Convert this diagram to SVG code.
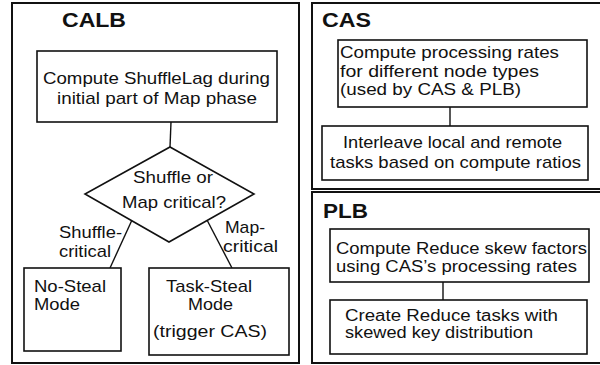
<svg xmlns="http://www.w3.org/2000/svg" width="600" height="365" viewBox="0 0 600 365">
<style>
.panel{fill:none;stroke:#111;stroke-width:2}
.box{fill:#fff;stroke:#111;stroke-width:1.6}
.ln{fill:none;stroke:#111;stroke-width:1.4}
text{font-family:"Liberation Sans",Arial,sans-serif;font-size:17px;fill:#111}
.s{font-size:16px}
.t{font-weight:bold;font-size:21px}
</style>
<rect width="600" height="365" fill="#fff"/>
<g id="panels">
<rect class="panel" x="12" y="3" width="287" height="360"/>
<rect class="panel" x="312" y="3" width="300" height="186"/>
<rect class="panel" x="312" y="192" width="300" height="171"/>
<text class="t" x="62" y="27" textLength="64" lengthAdjust="spacingAndGlyphs">CALB</text>
<text class="t" x="322" y="27" textLength="49" lengthAdjust="spacingAndGlyphs">CAS</text>
<text class="t" x="323" y="218" textLength="45" lengthAdjust="spacingAndGlyphs">PLB</text>
</g>
<g id="connectors">
<line class="ln" x1="171" y1="122" x2="170" y2="147"/>
<line class="ln" x1="132" y1="220" x2="110" y2="268"/>
<line class="ln" x1="207" y1="220" x2="232" y2="268"/>
<line class="ln" x1="450" y1="107" x2="450" y2="126"/>
<line class="ln" x1="443" y1="282" x2="443" y2="300"/>
<text x="59" y="238" textLength="63" lengthAdjust="spacingAndGlyphs">Shuffle-</text>
<text x="59" y="257" textLength="52" lengthAdjust="spacingAndGlyphs">critical</text>
<text x="225" y="233" textLength="40" lengthAdjust="spacingAndGlyphs">Map-</text>
<text x="223" y="252" textLength="55" lengthAdjust="spacingAndGlyphs">critical</text>
</g>
<g id="calb-compute">
<rect class="box" x="37" y="51" width="240" height="71"/>
<text x="43" y="84" textLength="227" lengthAdjust="spacingAndGlyphs">Compute ShuffleLag during</text>
<text x="57" y="104" textLength="200" lengthAdjust="spacingAndGlyphs">initial part of Map phase</text>
</g>
<g id="calb-decision">
<polygon class="box" points="170,147 254,194 169,242 85,194"/>
<text x="133" y="183" textLength="80" lengthAdjust="spacingAndGlyphs">Shuffle or</text>
<text x="122" y="208" textLength="104" lengthAdjust="spacingAndGlyphs">Map critical?</text>
</g>
<g id="calb-nosteal">
<rect class="box" x="24" y="268" width="97" height="83"/>
<text x="34" y="292" textLength="72" lengthAdjust="spacingAndGlyphs">No-Steal</text>
<text x="34" y="310" textLength="46" lengthAdjust="spacingAndGlyphs">Mode</text>
</g>
<g id="calb-tasksteal">
<rect class="box" x="149" y="268" width="140" height="87"/>
<text x="166" y="292" textLength="86" lengthAdjust="spacingAndGlyphs">Task-Steal</text>
<text x="188" y="310" textLength="45" lengthAdjust="spacingAndGlyphs">Mode</text>
<text x="153" y="337" textLength="114" lengthAdjust="spacingAndGlyphs">(trigger CAS)</text>
</g>
<g id="cas-rates">
<rect class="box" x="338" y="40" width="249" height="67"/>
<text x="340" y="58" textLength="219" lengthAdjust="spacingAndGlyphs">Compute processing rates</text>
<text x="340" y="77" textLength="199" lengthAdjust="spacingAndGlyphs">for different node types</text>
<text x="340" y="95" textLength="181" lengthAdjust="spacingAndGlyphs">(used by CAS &amp; PLB)</text>
</g>
<g id="cas-interleave">
<rect class="box" x="322" y="126" width="266" height="54"/>
<text x="343" y="148" textLength="219" lengthAdjust="spacingAndGlyphs">Interleave local and remote</text>
<text x="330" y="168" textLength="251" lengthAdjust="spacingAndGlyphs">tasks based on compute ratios</text>
</g>
<g id="plb-skew">
<rect class="box" x="330" y="229" width="259" height="53"/>
<text class="s" x="336" y="254" textLength="251" lengthAdjust="spacingAndGlyphs">Compute Reduce skew factors</text>
<text class="s" x="336" y="272" textLength="241" lengthAdjust="spacingAndGlyphs">using CAS’s processing rates</text>
</g>
<g id="plb-create">
<rect class="box" x="330" y="300" width="257" height="54"/>
<text class="s" x="345" y="321" textLength="213" lengthAdjust="spacingAndGlyphs">Create Reduce tasks with</text>
<text class="s" x="345" y="338" textLength="188" lengthAdjust="spacingAndGlyphs">skewed key distribution</text>
</g>
</svg>
